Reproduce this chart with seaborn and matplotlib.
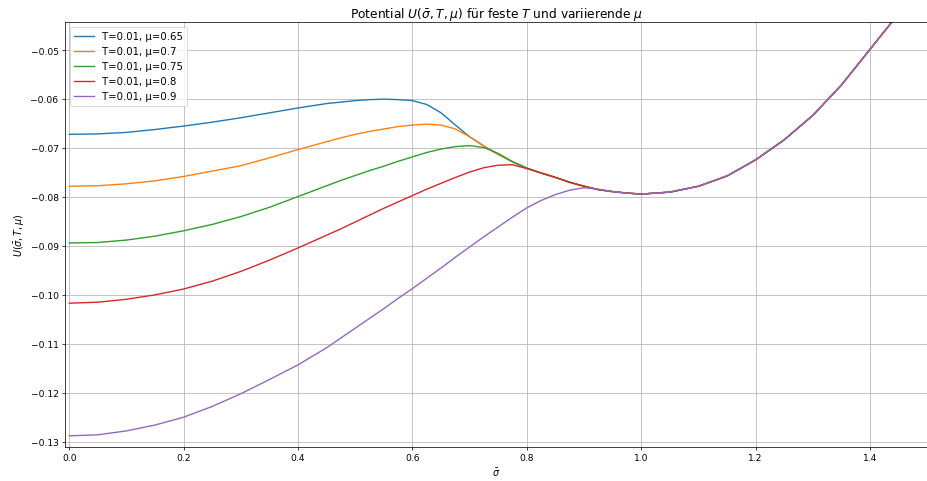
import pandas as pd
import matplotlib
matplotlib.use('Agg')
import matplotlib.pyplot as plt
import seaborn as sns

# sigma-Werte (gemeinsames Raster, feiner im Uebergangsbereich)
sigma = [0.0, 0.05, 0.1, 0.15, 0.2, 0.25, 0.3, 0.35, 0.4, 0.45,
         0.475, 0.5, 0.525, 0.55, 0.575, 0.6, 0.625, 0.65, 0.675,
         0.7, 0.725, 0.75, 0.775, 0.8, 0.825, 0.85, 0.875, 0.9, 0.925,
         0.95, 0.975, 1.0,
         1.05, 1.1, 1.15, 1.2, 1.25, 1.3, 1.35, 1.4, 1.45]

# gemeinsamer Verlauf ab sigma=0.7
tail = [-0.0677, -0.0696, -0.0713, -0.0728, -0.0741, -0.0751, -0.0760,
        -0.0770, -0.0778, -0.0785, -0.0789, -0.0792, -0.0794,
        -0.0790, -0.0778, -0.0757, -0.0724, -0.0683, -0.0633, -0.0571,
        -0.0498, -0.0425]

u_065 = [-0.0672, -0.0671, -0.0668, -0.0662, -0.0655, -0.0647, -0.0638,
         -0.0628, -0.0618, -0.0609,
         -0.0606, -0.0603, -0.0601, -0.0600, -0.0601, -0.0603, -0.0611,
         -0.0628, -0.0653] + tail
u_070 = [-0.0778, -0.0777, -0.0773, -0.0767, -0.0758, -0.0747, -0.0736,
         -0.0720, -0.0703, -0.0687,
         -0.0679, -0.0672, -0.0666, -0.0661, -0.0656, -0.0653, -0.0651,
         -0.0653, -0.0661] + tail
u_075 = [-0.0894, -0.0893, -0.0888, -0.0880, -0.0869, -0.0856, -0.0840,
         -0.0821, -0.0799, -0.0777,
         -0.0766, -0.0756, -0.0746, -0.0737, -0.0727, -0.0718, -0.0709,
         -0.0702, -0.0697,
         -0.0695, -0.0699, -0.0711] + tail[3:]
u_080 = [-0.1017, -0.1015, -0.1009, -0.1000, -0.0988, -0.0972, -0.0952,
         -0.0929, -0.0904, -0.0878,
         -0.0865, -0.0851, -0.0837, -0.0823, -0.0810, -0.0797, -0.0784,
         -0.0772, -0.0760,
         -0.0749, -0.0740, -0.0735, -0.0734, -0.0742] + tail[5:]
u_090 = [-0.1288, -0.1286, -0.1278, -0.1266, -0.1250, -0.1228, -0.1202,
         -0.1173, -0.1143, -0.1108,
         -0.1088, -0.1068, -0.1048, -0.1028, -0.1007, -0.0987, -0.0966,
         -0.0945, -0.0923,
         -0.0902, -0.0881, -0.0861, -0.0841, -0.0822, -0.0807, -0.0795,
         -0.0786, -0.0781, -0.0784] + tail[10:]

labels = ['T=0.01, μ=0.65', 'T=0.01, μ=0.7', 'T=0.01, μ=0.75',
          'T=0.01, μ=0.8', 'T=0.01, μ=0.9']
kurven = [u_065, u_070, u_075, u_080, u_090]

fig = plt.figure(figsize=(14.05, 7.3), dpi=66)
ax = fig.add_axes([0.0701, 0.0705, 0.9299, 0.8815])

for lab, u in zip(labels, kurven):
    df = pd.DataFrame({'sigma': sigma, 'U': u})
    sns.lineplot(x='sigma', y='U', data=df, label=lab, ax=ax)

ax.set_xlim(-0.0075, 1.5)
ax.set_ylim(-0.1311, -0.0443)
ax.grid(True)
ax.set_title(r'Potential $U(\bar{\sigma}, T, \mu)$ für feste $T$ und variierende $\mu$',
             fontsize=13.4)
ax.set_xlabel(r'$\bar{\sigma}$', fontsize=10.5)
ax.set_ylabel(r'$U(\bar{\sigma}, T, \mu)$', fontsize=10.5)
ax.legend(loc='upper left', fontsize=11)

fig.savefig('out.png', dpi=66)
